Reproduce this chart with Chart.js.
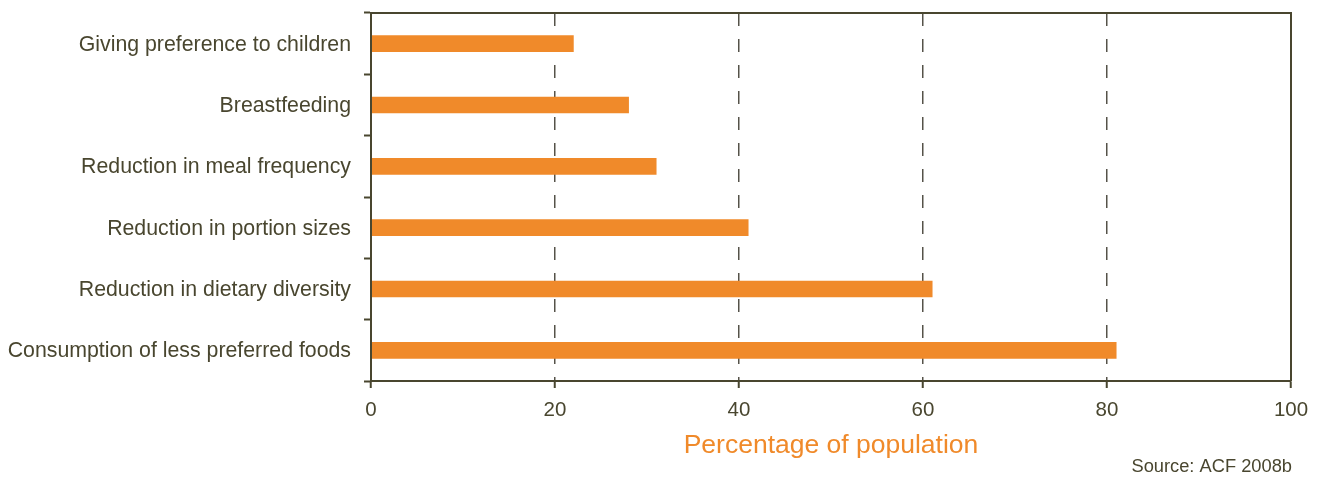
<!DOCTYPE html>
<html>
<head>
<meta charset="utf-8">
<script src="https://cdn.jsdelivr.net/npm/chart.js@4/dist/chart.umd.min.js"></script>
<style>
  html, body { margin: 0; padding: 0; background: #ffffff; }
  #wrap { width: 1322px; height: 480px; position: relative; }
</style>
</head>
<body>
<div id="wrap"><canvas id="copingChart"></canvas></div>
<script>
// Data (top to bottom)
const categories = [
  'Giving preference to children',
  'Breastfeeding',
  'Reduction in meal frequency',
  'Reduction in portion sizes',
  'Reduction in dietary diversity',
  'Consumption of less preferred foods'
];
const percentages = [22, 28, 31, 41, 61, 81];
const xTicks = [0, 20, 40, 60, 80, 100];
const axisTitle = 'Percentage of population';
const sourceNote = 'Source: ACF 2008b';

const inkColor = '#49462f';
const barColor = '#f08a2a';
const fontFamily = '"Liberation Sans", Arial, sans-serif';

// top and right frame lines + source note
const framePlugin = {
  id: 'frame',
  afterDraw(chart) {
    const { ctx, chartArea } = chart;
    ctx.save();
    ctx.strokeStyle = inkColor;
    ctx.lineWidth = 2;
    ctx.beginPath();
    ctx.moveTo(chartArea.left, chartArea.top);
    ctx.lineTo(chartArea.right, chartArea.top);
    ctx.lineTo(chartArea.right, chartArea.bottom);
    ctx.stroke();

    ctx.fillStyle = inkColor;
    ctx.font = '18.3px ' + fontFamily;
    ctx.textAlign = 'right';
    ctx.textBaseline = 'middle';
    ctx.fillText(sourceNote, chartArea.right + 1, 467);
    ctx.restore();
  }
};

const ctx = document.getElementById('copingChart').getContext('2d');
new Chart(ctx, {
  type: 'bar',
  data: {
    labels: categories,
    datasets: [{
      label: axisTitle,
      data: percentages,
      backgroundColor: barColor,
      borderWidth: 0,
      barThickness: 16
    }]
  },
  options: {
    indexAxis: 'y',
    responsive: true,
    maintainAspectRatio: false,
    animation: false,
    layout: {
      padding: { top: 13, right: 31, bottom: 0, left: 0 }
    },
    plugins: {
      legend: { display: false },
      tooltip: { enabled: false }
    },
    scales: {
      x: {
        min: 0,
        max: 100,
        afterBuildTicks: (axis) => {
          axis.ticks = xTicks.map(v => ({ value: v }));
        },
        afterFit: (axis) => { axis.height = 99; },
        grid: {
          color: (c) => (c.tick && (c.tick.value === 0 || c.tick.value === 100)) ? 'rgba(0,0,0,0)' : '#555249',
          lineWidth: 1.5,
          tickColor: inkColor,
          tickWidth: 2,
          tickLength: 7
        },
        border: {
          color: inkColor,
          width: 2,
          dash: [13, 13],
          z: 1
        },
        ticks: {
          color: inkColor,
          padding: 10,
          font: { family: fontFamily, size: 20.5 }
        },
        title: {
          display: true,
          text: axisTitle,
          color: barColor,
          padding: { top: 0, bottom: 18 },
          font: { family: fontFamily, size: 26.5 }
        }
      },
      y: {
        afterFit: (axis) => {
          axis.width = 371;
          // no extra room for half-labels, the category offset already leaves it
          axis.paddingTop = 0;
          axis.paddingBottom = 0;
        },
        grid: {
          offset: true,
          drawOnChartArea: false,
          tickColor: inkColor,
          tickWidth: 2,
          tickLength: 7
        },
        border: {
          color: inkColor,
          width: 2,
          z: 1
        },
        ticks: {
          color: inkColor,
          padding: 13,
          labelOffset: 1,
          font: { family: fontFamily, size: 21.3 }
        }
      }
    }
  },
  plugins: [framePlugin]
});
</script>
</body>
</html>
